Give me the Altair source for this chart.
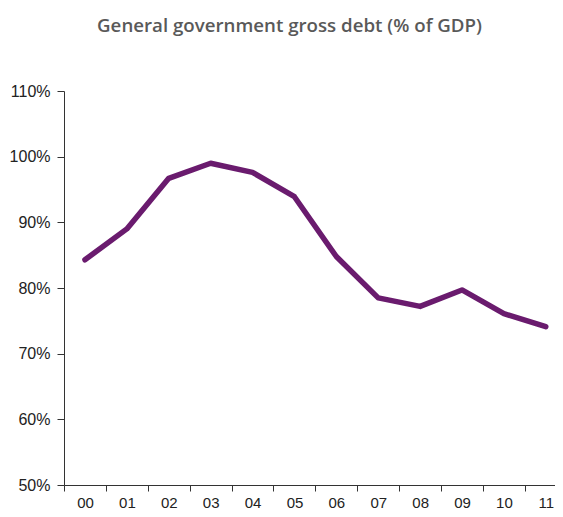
import altair as alt
import pandas as pd

years = ["00", "01", "02", "03", "04", "05", "06", "07", "08", "09", "10", "11"]
debt = [84.3, 89.0, 96.7, 99.0, 97.6, 93.9, 84.8, 78.5, 77.2, 79.7, 76.1, 74.1]
y_ticks = [50, 60, 70, 80, 90, 100, 110]

df = pd.DataFrame({"idx": list(range(len(years))), "year": years, "debt": debt})
tick_pos = [i - 0.5 for i in range(len(years))]

chart = alt.Chart(df).mark_line(
    color="#6A1B6E", strokeWidth=5.5, strokeJoin="round", strokeCap="round", clip=True
).encode(
    x=alt.X(
        "idx:Q",
        scale=alt.Scale(domain=[-0.5, 11.22], nice=False, zero=False),
        axis=alt.Axis(
            values=tick_pos,
            labelExpr="format(datum.value + 0.5, '02d')",
            labelOffset=21,
            title=None,
            grid=False,
            tickSize=6,
            labelPadding=4,
            labelFont="Liberation Sans",
            labelFontSize=15,
            labelColor="#222222",
            domainColor="#333333",
            tickColor="#333333",
            labelFlush=False,
            labelOverlap=False,
        ),
    ),
    y=alt.Y(
        "debt:Q",
        scale=alt.Scale(domain=[50, 110], nice=False, zero=False),
        axis=alt.Axis(
            values=y_ticks,
            labelExpr="datum.value + '%'",
            title=None,
            grid=False,
            tickSize=7,
            labelPadding=7,
            labelFont="Liberation Sans",
            labelFontSize=16,
            labelColor="#222222",
            domainColor="#333333",
            tickColor="#333333",
        ),
    ),
).properties(
    width=491,
    height=394,
    autosize=alt.AutoSizeParams(type="none"),
    padding={"left": 56, "top": 83, "right": 0, "bottom": 24},
    title=alt.TitleParams(
        "General government gross debt (% of GDP)",
        font="Open Sans",
        fontSize=18.7,
        fontWeight=600,
        color="#595959",
        offset=47,
        dx=-20,
        anchor="middle",
    ),
).configure_view(stroke=None)

chart.save("out.html", embed_options={"renderer": "svg", "actions": False})
